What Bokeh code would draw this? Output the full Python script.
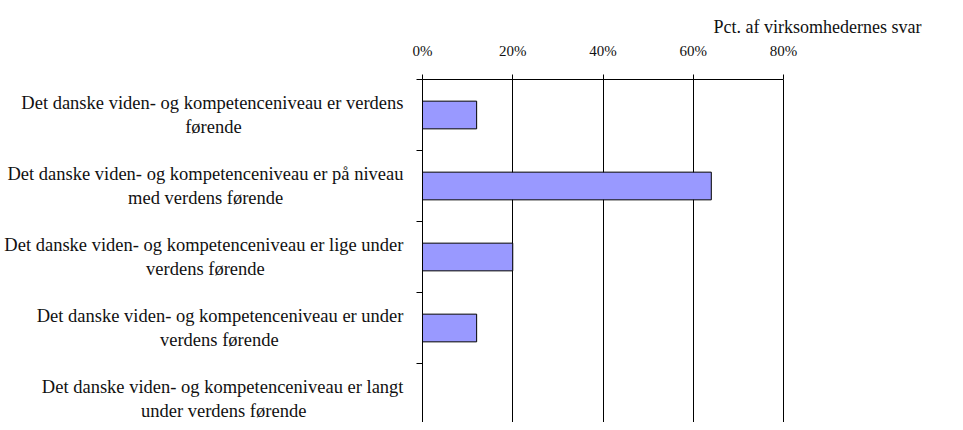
from bokeh.plotting import figure
from bokeh.models import Range1d, FixedTicker
from bokeh.embed import file_html
from bokeh.resources import INLINE

# ---- data ----
categories = [
    ["Det danske viden- og kompetenceniveau er verdens", "førende"],
    ["Det danske viden- og kompetenceniveau er på niveau", "med verdens førende"],
    ["Det danske viden- og kompetenceniveau er lige under", "verdens førende"],
    ["Det danske viden- og kompetenceniveau er under", "verdens førende"],
    ["Det danske viden- og kompetenceniveau er langt", "under verdens førende"],
]
values = [12, 64, 20, 12, 0]
x_ticks = [0, 20, 40, 60, 80]
x_tick_labels = ["0%", "20%", "40%", "60%", "80%"]
axis_title = "Pct. af virksomhedernes svar"

# ---- layout (pixels) ----
W, H = 947, 422
FRAME_L, FRAME_T = 422, 79
AXIS_END_PX = 783          # where 80% sits
TITLE_RIGHT_PX = 921       # right edge of the axis title
BR = W - TITLE_RIGHT_PX
frame_h = H - FRAME_T
band_px = 71.0
px_per_unit = (AXIS_END_PX - FRAME_L) / x_ticks[-1]
x_end = (TITLE_RIGHT_PX - FRAME_L) / px_per_unit
FONT = "Liberation Serif"
LABEL_SIZE = 18.5

# Times-compatible advance widths (per 1000 em), used to centre the
# shorter line of each two-line category label under the longer one
ADV = {" ": 250, "-": 333, "D": 722, "a": 444, "c": 444, "d": 500, "e": 444,
       "f": 333, "g": 500, "i": 278, "k": 500, "l": 278, "m": 778, "n": 500,
       "o": 500, "p": 500, "r": 333, "s": 389, "t": 278, "u": 500, "v": 500,
       "å": 444, "ø": 500}


def text_w(s):
    return sum(ADV.get(ch, 500) for ch in s) / 1000.0


def centred(lines):
    wmax = max(text_w(s) for s in lines)
    out = []
    for s in lines:
        n = int(round((wmax - text_w(s)) / 2.0 / (ADV[" "] / 1000.0)))
        out.append(s + "\u00a0" * n)
    return "\n".join(out)


p = figure(width=W, height=H, output_backend="svg", toolbar_location=None,
           x_axis_location="above",
           x_range=Range1d(0, x_end), y_range=Range1d(frame_h / band_px, 0),
           min_border_left=FRAME_L, min_border_right=BR, min_border_top=FRAME_T,
           min_border_bottom=0)
p.outline_line_color = None
p.background_fill_color = "white"
p.border_fill_color = "white"

# title (top right, above the axis labels)
p.title.text = axis_title
p.title.align = "right"
p.title.text_font = FONT
p.title.text_font_size = "18px"
p.title.text_font_style = "normal"
p.title.text_color = "#111111"
p.title.standoff = 5

centers = [i + 0.5 for i in range(len(values))]
bounds_y = list(range(len(values) + 1))
p.hbar(y=centers, right=values, left=0, height=0.39,
       fill_color="#9999FF", line_color="black", line_width=1)

# x axis (top)
xa = p.xaxis[0]
xa.ticker = FixedTicker(ticks=x_ticks)
xa.bounds = (x_ticks[0], x_ticks[-1])
xa.major_label_overrides = {t: l for t, l in zip(x_ticks, x_tick_labels)}
xa.major_tick_in = 0
xa.major_tick_out = 5
xa.minor_tick_line_color = None
xa.axis_line_color = "black"
xa.major_tick_line_color = "black"
xa.major_label_text_font = FONT
xa.major_label_text_font_size = "15px"
xa.major_label_text_color = "#111111"
xa.major_label_standoff = 16

# y axis (left): labels at band centres, minor ticks at band boundaries
ya = p.yaxis[0]
ya.ticker = FixedTicker(ticks=centers, minor_ticks=bounds_y)
ya.major_label_overrides = {c: centred(l) for c, l in zip(centers, categories)}
ya.major_tick_in = 0
ya.major_tick_out = 0
ya.major_tick_line_color = None
ya.minor_tick_in = 0
ya.minor_tick_out = 6
ya.minor_tick_line_color = "black"
ya.axis_line_color = "black"
ya.major_label_text_font = FONT
ya.major_label_text_font_size = f"{LABEL_SIZE}px"
ya.major_label_text_color = "#111111"
ya.major_label_standoff = 13

p.xgrid.grid_line_color = "black"
p.xgrid.grid_line_alpha = 1.0
p.xgrid.ticker = FixedTicker(ticks=x_ticks[1:])
p.ygrid.grid_line_color = None

open("out.html", "w").write(file_html(p, INLINE))
